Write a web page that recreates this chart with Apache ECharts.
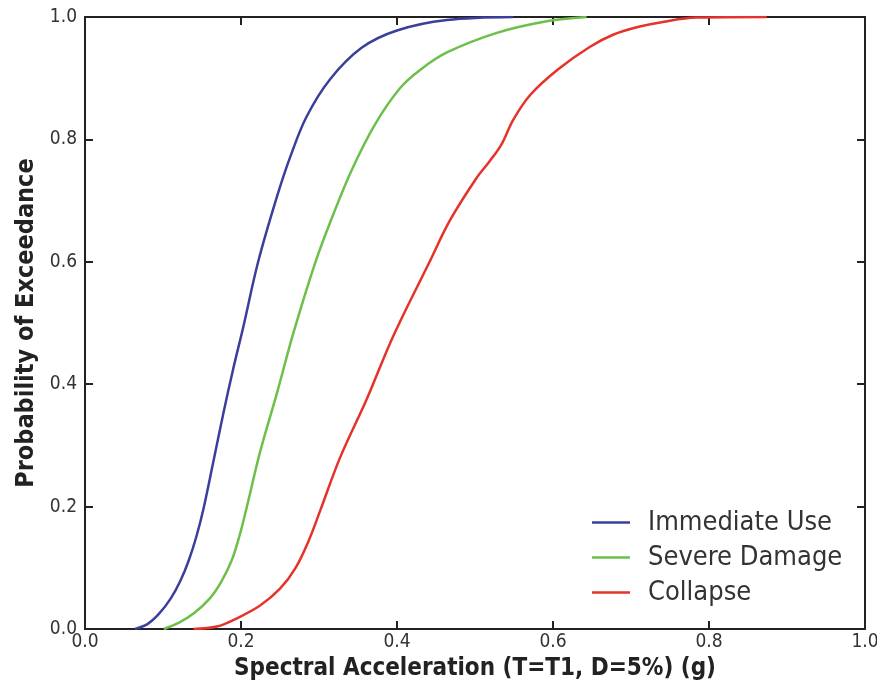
<!DOCTYPE html>
<html>
<head>
<meta charset="utf-8">
<script src="https://cdn.jsdelivr.net/npm/echarts@6/dist/echarts.min.js"></script>
<style>html,body{margin:0;padding:0;background:#fff}#c{width:877px;height:683px}</style>
</head>
<body>
<div id="c"></div>
<script>
const seriesNames = ['Immediate Use', 'Severe Damage', 'Collapse'];
const tickValues = [0.0, 0.2, 0.4, 0.6, 0.8, 1.0];
const xTitle = 'Spectral Acceleration (T=T1, D=5%) (g)';
const yTitle = 'Probability of Exceedance';

const immediateUse = [
  [0.064, 0.000], [0.080, 0.008], [0.095, 0.025], [0.110, 0.050], [0.122, 0.078],
  [0.133, 0.112], [0.143, 0.152], [0.152, 0.197], [0.164, 0.270], [0.177, 0.350],
  [0.190, 0.425], [0.203, 0.494], [0.222, 0.600], [0.246, 0.706], [0.263, 0.771],
  [0.284, 0.837], [0.314, 0.898], [0.355, 0.950], [0.400, 0.978], [0.464, 0.995],
  [0.549, 1.000]
];
const severeDamage = [
  [0.101, 0.000], [0.120, 0.010], [0.140, 0.026], [0.160, 0.050], [0.175, 0.078],
  [0.188, 0.112], [0.198, 0.152], [0.207, 0.197], [0.224, 0.287], [0.246, 0.385],
  [0.267, 0.483], [0.295, 0.598], [0.316, 0.670], [0.342, 0.750], [0.372, 0.825],
  [0.404, 0.884], [0.430, 0.914], [0.464, 0.942], [0.528, 0.974], [0.592, 0.993],
  [0.643, 1.000]
];
const collapse = [
  [0.139, 0.000], [0.169, 0.004], [0.194, 0.017], [0.224, 0.038], [0.250, 0.066],
  [0.270, 0.100], [0.287, 0.145], [0.302, 0.195], [0.327, 0.280], [0.361, 0.375],
  [0.395, 0.478], [0.441, 0.598], [0.468, 0.668], [0.502, 0.737], [0.518, 0.763],
  [0.534, 0.792], [0.549, 0.832], [0.571, 0.873], [0.607, 0.915], [0.647, 0.951],
  [0.677, 0.971], [0.710, 0.984], [0.741, 0.992], [0.784, 0.999], [0.874, 1.000]
];

const colors = ['#3b3f9c', '#6cc04a', '#e5322a'];
const FONT = '"DejaVu Sans Condensed", "Open Sans", sans-serif';
const fmt = v => v.toFixed(1);

const chart = echarts.init(document.getElementById('c'), null, {renderer: 'canvas'});

const baseAxis = {
  type: 'value', min: 0, max: 1, interval: 0.2,
  splitLine: {show: false},
  axisLine: {show: true, onZero: false, lineStyle: {color: '#222', width: 2}},
  axisTick: {show: true, inside: true, length: 8, lineStyle: {color: '#222', width: 2}}
};

chart.setOption({
  animation: false,
  backgroundColor: '#fff',
  color: colors,
  grid: {left: 85, right: 12, top: 17, bottom: 54, containLabel: false, outerBoundsMode: 'none'},
  legend: {
    data: seriesNames,
    orient: 'vertical',
    left: 587, bottom: 72,
    icon: 'rect', itemWidth: 38, itemHeight: 2.5, itemGap: 8,
    textStyle: {fontFamily: FONT, fontSize: 27, color: '#333', padding: [0, 0, 0, 13]}
  },
  xAxis: [
    Object.assign({}, baseAxis, {
      position: 'bottom',
      name: xTitle, nameLocation: 'middle', nameGap: 28,
      nameTextStyle: {fontFamily: FONT, fontSize: 24, fontWeight: 'bold', color: '#222'},
      axisLabel: {fontFamily: FONT, fontSize: 19, color: '#333', margin: 4,
        formatter: v => fmt(tickValues[Math.round(v / 0.2)])}
    }),
    Object.assign({}, baseAxis, {position: 'top', axisLabel: {show: false}})
  ],
  yAxis: [
    Object.assign({}, baseAxis, {
      position: 'left',
      name: yTitle, nameLocation: 'middle', nameGap: 46,
      nameTextStyle: {fontFamily: FONT, fontSize: 25, fontWeight: 'bold', color: '#222'},
      axisLabel: {fontFamily: FONT, fontSize: 19, color: '#333', margin: 8,
        formatter: v => fmt(tickValues[Math.round(v / 0.2)])}
    }),
    Object.assign({}, baseAxis, {position: 'right', axisLabel: {show: false}})
  ],
  series: [immediateUse, severeDamage, collapse].map((d, i) => ({
    name: seriesNames[i],
    type: 'line',
    data: d,
    smooth: 0.35,
    showSymbol: false,
    symbol: 'none',
    lineStyle: {width: 2.5, color: colors[i]},
    z: 1
  }))
});
</script>
</body>
</html>
